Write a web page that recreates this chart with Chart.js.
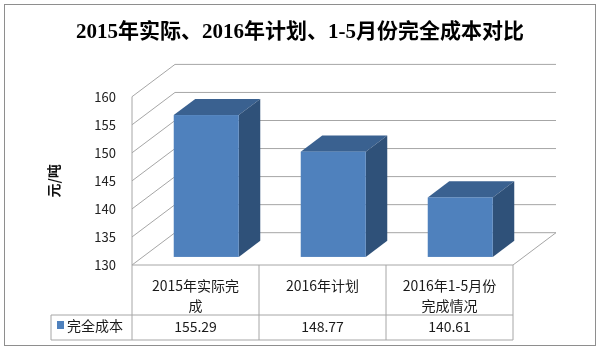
<!DOCTYPE html>
<html>
<head>
<meta charset="utf-8">
<script src="https://cdn.jsdelivr.net/npm/chart.js@4.4.1/dist/chart.umd.min.js"></script>
<style>
  html, body { margin: 0; padding: 0; background: #fff; }
  #wrap { width: 600px; height: 352px; }
</style>
</head>
<body>
<div id="wrap"><canvas id="costChart" width="600" height="352"></canvas></div>
<script>
const titleText = '2015年实际、2016年计划、1-5月份完全成本对比';
const axisTitle = '元/吨';
const seriesName = '完全成本';
// header cells of the data table (wrapped like Excel does)
const categories = [['2015年实际完', '成'], ['2016年计划'], ['2016年1-5月份', '完成情况']];
const costValues = [155.29, 148.77, 140.61];
const valueLabels = ['155.29', '148.77', '140.61'];
const yTicks = [130, 135, 140, 145, 150, 155, 160];

const cjk = '"Noto Sans CJK SC", "Microsoft YaHei", sans-serif';
const DX = 43, DY = -32.3;   // depth of the 3d box
const gridColor = '#a6a6a6';

function line(ctx, x1, y1, x2, y2) {
  ctx.beginPath();
  ctx.moveTo(x1, y1);
  ctx.lineTo(x2, y2);
  ctx.stroke();
}

function poly(ctx, pts, fill) {
  ctx.beginPath();
  ctx.moveTo(pts[0][0], pts[0][1]);
  pts.slice(1).forEach(p => ctx.lineTo(p[0], p[1]));
  ctx.closePath();
  ctx.fillStyle = fill;
  ctx.fill();
}

const excel3d = {
  id: 'excel3d',
  beforeDraw(chart) {
    const ctx = chart.ctx;
    ctx.save();
    ctx.fillStyle = '#fff';
    ctx.fillRect(0, 0, chart.width, chart.height);
    ctx.strokeStyle = '#8e8e8e';
    ctx.lineWidth = 1;
    ctx.strokeRect(4.5, 4.5, 591, 341);
    ctx.fillStyle = '#000';
    ctx.font = 'bold 21px "Liberation Serif", "Noto Sans CJK SC", serif';
    ctx.textAlign = 'center';
    ctx.textBaseline = 'middle';
    ctx.fillText(titleText, 300, 33);
    ctx.restore();
  },
  beforeDatasetsDraw(chart) {
    const { ctx, chartArea: a, scales: { x, y } } = chart;
    ctx.save();
    ctx.strokeStyle = gridColor;
    ctx.lineWidth = 1;
    // side wall + back wall gridlines
    yTicks.forEach(v => {
      const py = y.getPixelForValue(v);
      line(ctx, a.left, py, a.left + DX, py + DY);
      line(ctx, a.left + DX, py + DY, a.right + DX, py + DY);
    });
    line(ctx, a.left, y.getPixelForValue(yTicks[yTicks.length - 1]), a.left, a.bottom);
    // floor
    line(ctx, a.right, a.bottom, a.right + DX, a.bottom + DY);

    // data table
    const catW = (a.right - a.left) / categories.length;
    const rowTop = a.bottom, rowMid = 315, rowBot = 340, legLeft = 51;
    line(ctx, a.left, rowTop, a.right, rowTop);
    line(ctx, legLeft, rowMid, a.right, rowMid);
    line(ctx, legLeft, rowBot, a.right, rowBot);
    line(ctx, legLeft, rowMid, legLeft, rowBot);
    for (let i = 0; i <= categories.length; i++) {
      const px = a.left + catW * i;
      line(ctx, px, rowTop, px, rowBot);
    }
    ctx.fillStyle = '#1a1a1a';
    ctx.font = '14px ' + cjk;
    ctx.textAlign = 'center';
    ctx.textBaseline = 'middle';
    categories.forEach((lines, i) => {
      const cx = x.getPixelForValue(i);
      lines.forEach((t, k) => ctx.fillText(t, cx, 286 + k * 19.3));
      ctx.fillText(valueLabels[i], cx, 327);
    });
    ctx.fillStyle = '#4F81BD';
    ctx.fillRect(57, 321, 7, 8);
    ctx.fillStyle = '#1a1a1a';
    ctx.textAlign = 'left';
    ctx.fillText(seriesName, 67, 326);
    ctx.restore();
  },
  afterDatasetsDraw(chart) {
    const { ctx, scales: { y } } = chart;
    const meta = chart.getDatasetMeta(0);
    const floorY = y.getPixelForValue(y.min);
    ctx.save();
    meta.data.forEach(bar => {
      const { x: cx, y: top, width } = bar.getProps(['x', 'y', 'width'], true);
      const fx = cx - width / 2 + DX * 0.25;
      const fy = top + DY * 0.25;
      const fb = floorY + DY * 0.25;
      const bx = DX * 0.5, by = DY * 0.5;
      poly(ctx, [[fx, fy], [fx + width, fy], [fx + width + bx, fy + by], [fx + bx, fy + by]], '#3A6190');
      poly(ctx, [[fx + width, fy], [fx + width + bx, fy + by], [fx + width + bx, fb + by], [fx + width, fb]], '#2F5179');
      ctx.fillStyle = '#4F81BD';
      ctx.fillRect(fx, fy, width, fb - fy);
    });
    ctx.restore();
  }
};

new Chart(document.getElementById('costChart'), {
  type: 'bar',
  data: {
    labels: categories.map(c => c.join('')),
    datasets: [{
      label: seriesName,
      data: costValues,
      backgroundColor: 'rgba(0,0,0,0)',
      borderWidth: 0,
      barPercentage: 0.512,
      categoryPercentage: 1
    }]
  },
  options: {
    responsive: false,
    animation: false,
    layout: { padding: { left: 41, right: 87, top: 96.7, bottom: 87 } },
    plugins: {
      legend: { display: false },
      tooltip: { enabled: false }
    },
    scales: {
      x: { display: false },
      y: {
        min: 130,
        max: 160,
        afterBuildTicks: s => { s.ticks = yTicks.map(v => ({ value: v })); },
        afterFit: s => { s.width = 91; },
        grid: { display: false, drawTicks: false },
        border: { display: false },
        ticks: { padding: 16, color: '#222', font: { family: cjk, size: 13 } },
        title: {
          display: true,
          text: axisTitle,
          color: '#111',
          padding: { top: 4, bottom: 4 },
          font: { family: cjk, size: 14, weight: 'bold' }
        }
      }
    }
  },
  plugins: [excel3d]
});
</script>
</body>
</html>
